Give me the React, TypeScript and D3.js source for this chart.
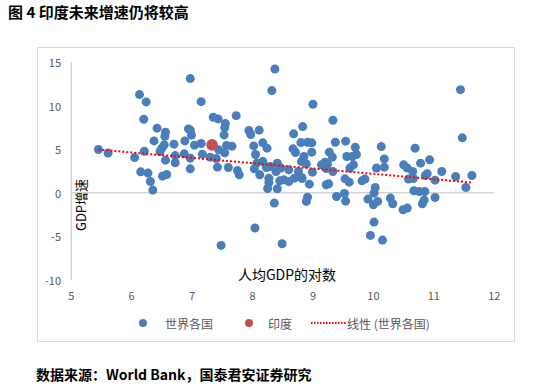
import React, { useEffect, useRef } from 'react';
import * as d3 from 'd3';

// log of GDP per capita (x) and GDP growth (y), world countries
const logGdp = [
  5.45, 5.61, 6.05, 6.13, 6.15, 6.20, 6.21, 6.24, 6.27, 6.31, 6.35, 6.37, 6.42, 6.47, 6.50, 6.51, 6.54,
  6.55, 6.56, 6.56, 6.58, 6.70, 6.72, 6.72, 6.87, 6.88, 6.94, 6.97, 6.97, 6.97, 6.97, 6.99, 7.04, 7.15,
  7.15, 7.17, 7.30, 7.35, 7.40, 7.42, 7.43, 7.44, 7.48, 7.53, 7.54, 7.54, 7.55, 7.57, 7.60, 7.66, 7.73,
  7.75, 7.78, 7.94, 7.97, 8.02, 8.03, 8.04, 8.05, 8.07, 8.11, 8.12, 8.17, 8.17, 8.23, 8.24, 8.25, 8.27,
  8.27, 8.29, 8.32, 8.36, 8.37, 8.39, 8.41, 8.41, 8.45, 8.47, 8.49, 8.52, 8.60, 8.60, 8.67, 8.68, 8.69,
  8.71, 8.76, 8.80, 8.81, 8.82, 8.83,
  8.81, 8.85, 8.89, 8.89, 8.91, 8.91, 8.94, 8.98, 8.98, 8.99, 9.00, 9.14, 9.20, 9.22, 9.22, 9.24, 9.26,
  9.27, 9.32, 9.33, 9.33, 9.37, 9.39, 9.52, 9.53, 9.54, 9.54, 9.56, 9.60, 9.61, 9.65, 9.67, 9.70, 9.72,
  9.81, 9.86, 9.91, 9.95, 10.00, 10.01, 10.01, 10.03, 10.05, 10.07, 10.13, 10.15, 10.18, 10.18, 10.28,
  10.32, 10.49, 10.50, 10.56, 10.56, 10.58,
  10.65, 10.66, 10.67, 10.69, 10.76, 10.78, 10.81, 10.84, 10.85, 10.86, 10.89, 10.93, 11.02, 11.02,
  11.13, 11.36, 11.44, 11.47, 11.53, 11.63,
];
const growth = [
  4.96, 4.55, 4.04, 11.26, 2.40, 8.44, 4.77, 10.42, 2.26, 1.30, 0.31, 5.95, 7.41, 4.73, 5.12, 1.91, 5.50,
  6.49, 6.95, 3.74, 2.10, 5.58, 4.27, 3.44, 4.47, 5.95, 7.33, 13.1, 7.18, 3.97, 2.75, 6.61, 5.46, 10.45,
  5.65, 4.43, 4.09, 8.67, 3.93, 2.94, 8.47, 4.93, -6.03, 6.64, 7.48, 4.58, 7.94, 5.42, 2.90, 5.35, 8.85,
  2.55, 2.06, 7.14, 6.68, 5.38, 2.75, -4.04, 4.39, 3.40, 7.18, 2.06, 5.73, 3.59, 2.90, 5.12, 0.49, 1.68,
  1.18, 3.01, 11.72, -1.18, 14.2, 2.44, 3.40, 0.46, 1.37, 2.83, -5.84, 1.49, 1.30, 2.63, 5.04, 6.76, 1.68,
  4.62, 2.44, 5.76, 3.59, 1.64, 7.59,
  1.75, 4.16, 3.32, -0.99, 5.80, -0.50, 0.99, 5.73, 4.66, 2.37, 10.16, 3.21, 3.51, 2.78, 0.92, 3.28, 1.03,
  4.66, 4.09, 8.32, 2.44, 5.80, -0.42, -0.08, 1.60, 5.92, -0.95, 4.16, 1.22, 2.83, 4.16, 3.21, 5.23, 4.39,
  1.37, 1.57, -0.72, -4.89, -1.37, -0.04, -3.36, 0.61, 2.83, -0.99, 5.30, -5.42, 3.89, 2.94, -0.61,
  -1.26, -1.95, 3.21, 2.83, -1.75, 1.57,
  2.44, 1.64, 0.23, 5.12, 0.15, 3.40, -1.26, -0.84, 0.15, 1.98, 2.18, 3.78, 1.45, -0.54,
  2.44, 1.87, 11.83, 6.30, 0.61, 1.98,
];
const india = { x: 7.33, y: 5.5 };

// linear trend of the world series
const trendX = [5.45, 11.62];
const trendY = [4.96, 1.18];

const xTicks = [5, 6, 7, 8, 9, 10, 11, 12];
const yTicks = [-10, -5, 0, 5, 10, 15];

const BLUE = '#4A7EBB';
const RED = '#C0504D';
const AXIS = '#BFBFBF';
const LABEL = '#595959';
const FONT = '"Noto Sans CJK SC", "Noto Sans", sans-serif';

const App = () => {
  const ref = useRef<SVGSVGElement>(null);
  const width = 535, height = 387;

  useEffect(() => {
    document.body.style.margin = '0';
    const svg = d3.select(ref.current);
    svg.selectAll('*').remove();

    const x = d3.scaleLinear().domain([5, 12]).range([71.2, 494.3]);
    const y = d3.scaleLinear().domain([-10, 15]).range([280, 62]);

    svg.append('rect').attr('width', width).attr('height', height).attr('fill', '#fff');

    // title + source
    svg.append('text')
      .attr('x', 8).attr('y', 18)
      .attr('font-family', FONT).attr('font-weight', 'bold').attr('font-size', 15)
      .attr('fill', '#000')
      .text('图 4 印度未来增速仍将较高');

    svg.append('text')
      .attr('x', 36).attr('y', 380)
      .attr('font-family', FONT).attr('font-weight', 'bold').attr('font-size', 14)
      .attr('fill', '#000')
      .text('数据来源：World Bank，国泰君安证券研究');

    // chart frame
    svg.append('rect')
      .attr('x', 37.5).attr('y', 47.5)
      .attr('width', 477).attr('height', 294)
      .attr('fill', 'none').attr('stroke', '#D9D9D9');

    // axis lines
    svg.append('line')
      .attr('x1', x(5)).attr('x2', x(5))
      .attr('y1', y(15)).attr('y2', y(-10))
      .attr('stroke', AXIS);
    svg.append('line')
      .attr('x1', x(5)).attr('x2', x(12))
      .attr('y1', y(0)).attr('y2', y(0))
      .attr('stroke', AXIS);

    // tick labels
    svg.append('g')
      .selectAll('text')
      .data(yTicks)
      .join('text')
      .attr('x', 61).attr('y', d => y(d))
      .attr('text-anchor', 'end').attr('dominant-baseline', 'central')
      .attr('font-family', FONT).attr('font-size', 11).attr('fill', LABEL)
      .text(d => d);

    svg.append('g')
      .selectAll('text')
      .data(xTicks)
      .join('text')
      .attr('x', d => x(d)).attr('y', 295)
      .attr('text-anchor', 'middle').attr('dominant-baseline', 'central')
      .attr('font-family', FONT).attr('font-size', 11).attr('fill', LABEL)
      .text(d => d);

    // world points
    const pts = logGdp.map((v, i) => ({ x: v, y: growth[i] }));
    svg.append('g')
      .attr('fill', BLUE)
      .selectAll('circle')
      .data(pts)
      .join('circle')
      .attr('cx', d => x(d.x)).attr('cy', d => y(d.y))
      .attr('r', 4.5);

    // india
    svg.append('circle')
      .attr('cx', x(india.x)).attr('cy', y(india.y))
      .attr('r', 5.8).attr('fill', RED);

    // linear trend
    const trend = d3.line<number>()
      .x(d => x(d))
      .y((_, i) => y(trendY[i]));
    svg.append('path')
      .attr('d', trend(trendX))
      .attr('fill', 'none')
      .attr('stroke', '#FF0000').attr('stroke-width', 2)
      .attr('stroke-dasharray', '2,2');

    // axis titles
    svg.append('text')
      .attr('transform', `translate(80,205) rotate(-90)`)
      .attr('text-anchor', 'middle').attr('dominant-baseline', 'central')
      .attr('font-family', FONT).attr('font-size', 13).attr('fill', '#000')
      .text('GDP增速');

    svg.append('text')
      .attr('x', 287).attr('y', 274)
      .attr('text-anchor', 'middle').attr('dominant-baseline', 'central')
      .attr('font-family', FONT).attr('font-size', 14).attr('fill', '#000')
      .text('人均GDP的对数');

    // legend
    const lg = svg.append('g').attr('font-family', FONT).attr('font-size', 12).attr('fill', LABEL);
    lg.append('circle').attr('cx', 143).attr('cy', 323).attr('r', 4).attr('fill', BLUE);
    lg.append('text').attr('x', 165).attr('y', 323).attr('dominant-baseline', 'central').text('世界各国');
    lg.append('circle').attr('cx', 249).attr('cy', 323).attr('r', 4).attr('fill', RED);
    lg.append('text').attr('x', 268).attr('y', 323).attr('dominant-baseline', 'central').text('印度');
    lg.append('line')
      .attr('x1', 311).attr('x2', 346).attr('y1', 323).attr('y2', 323)
      .attr('stroke', '#FF0000').attr('stroke-width', 2).attr('stroke-dasharray', '1.5,1.5');
    lg.append('text').attr('x', 347).attr('y', 323).attr('dominant-baseline', 'central').text('线性 (世界各国)');
  }, []);

  return <svg ref={ref} width={width} height={height} style={{ display: 'block' }} />;
};

export default App;
